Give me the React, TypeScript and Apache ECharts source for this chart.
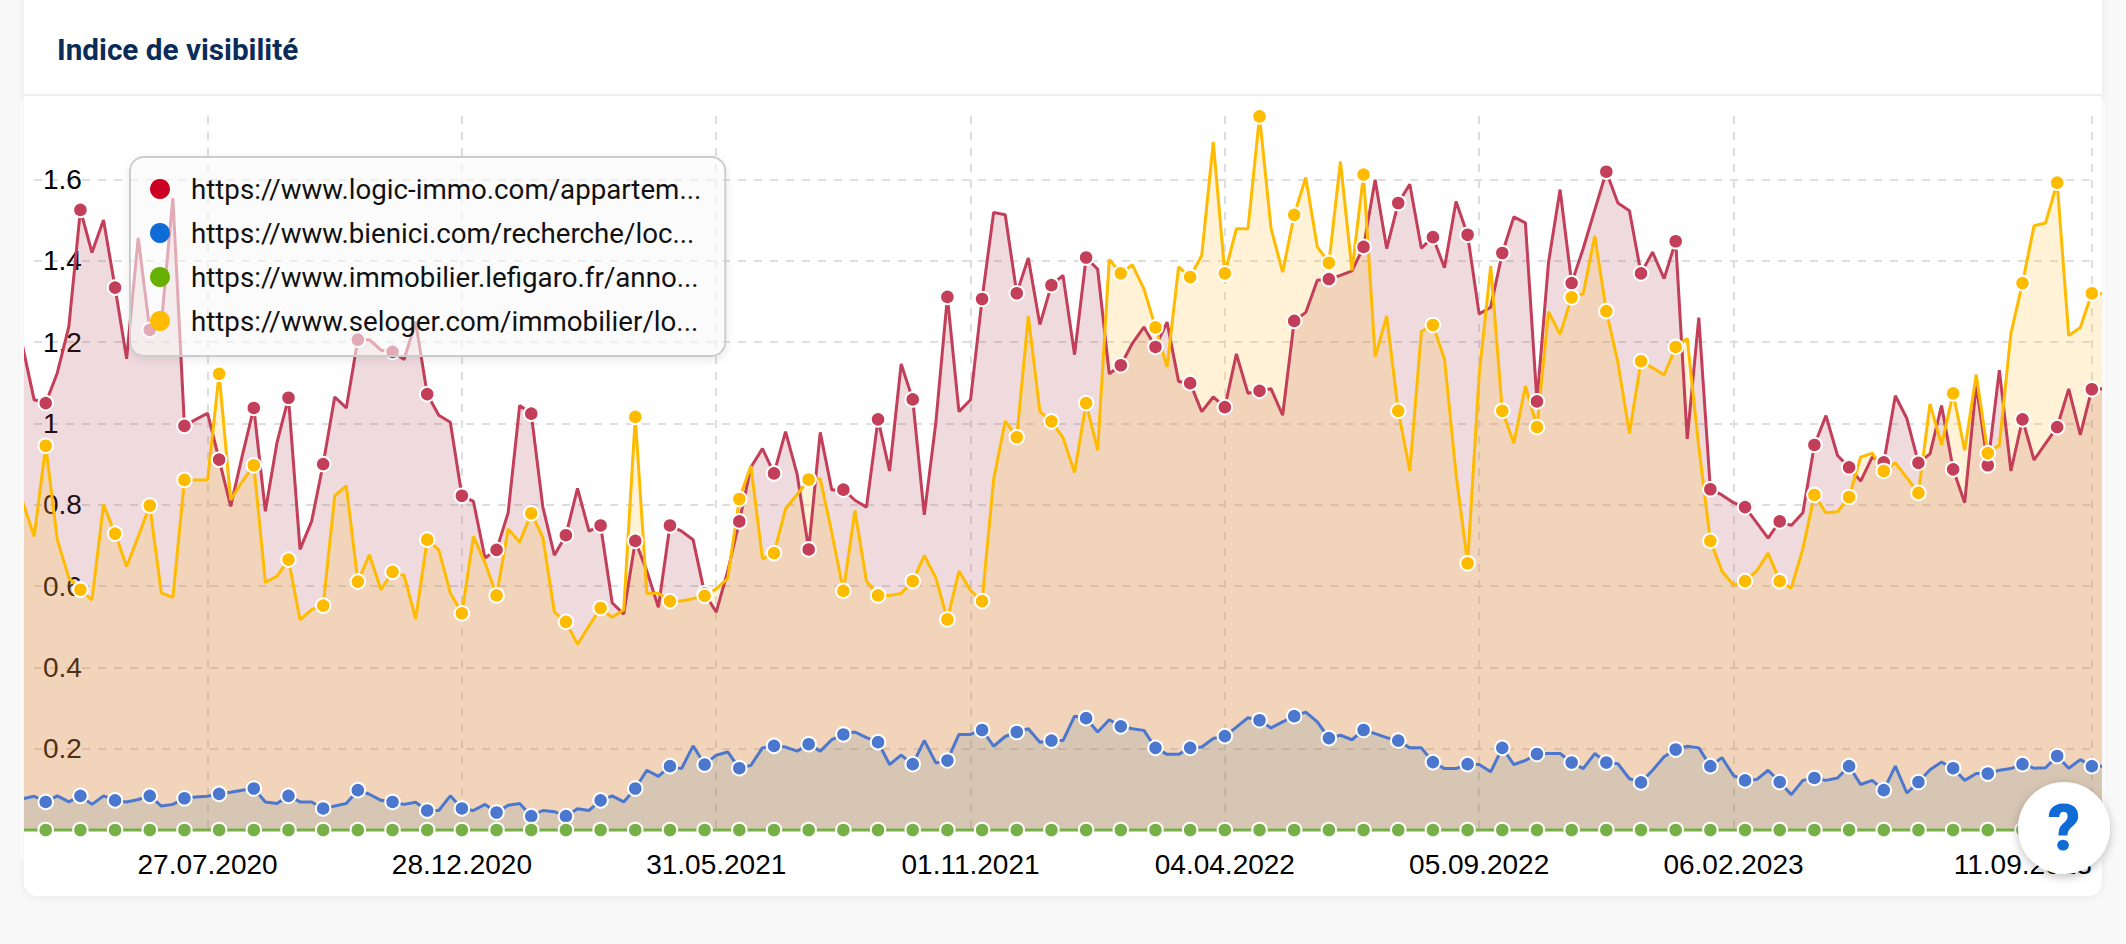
import React, { useEffect, useRef } from "react";
import * as echarts from "echarts";

const title = "Indice de visibilité";
const seriesNames = [
  "https://www.logic-immo.com/appartem...",
  "https://www.bienici.com/recherche/loc...",
  "https://www.immobilier.lefigaro.fr/anno...",
  "https://www.seloger.com/immobilier/lo...",
];
const legendColors = ["#cc0022", "#0f6bd6", "#66b100", "#ffbb00"];
const lineColors = ["#c33e58", "#4b78ce", "#78b048", "#ffbb00"];
const areaColors = ["rgb(175,70,90)", "rgb(56,121,174)", "rgb(120,176,72)", "rgb(255,187,45)"];
const areaOpacities = [0.2, 0.17, 0.2, 0.195];

const tickLabels = ["27.07.2020", "28.12.2020", "31.05.2021", "01.11.2021", "04.04.2022", "05.09.2022", "06.02.2023", "11.09.2023"];

const logicImmo = [
  1.19, 1.058, 1.05, 1.124, 1.238, 1.525, 1.42, 1.5, 1.334, 1.159,
  1.456, 1.23, 1.245, 1.554, 0.994, 1.01, 1.025, 0.911, 0.796, 0.92,
  1.038, 0.784, 0.952, 1.063, 0.69, 0.759, 0.9, 1.065, 1.038, 1.206,
  1.206, 1.18, 1.176, 1.157, 1.25, 1.072, 1.02, 1.003, 0.822, 0.808,
  0.669, 0.689, 0.78, 1.044, 1.024, 0.795, 0.676, 0.725, 0.84, 0.735,
  0.749, 0.559, 0.531, 0.711, 0.637, 0.548, 0.749, 0.735, 0.714, 0.582,
  0.536, 0.637, 0.759, 0.892, 0.938, 0.877, 0.98, 0.875, 0.69, 0.978,
  0.836, 0.837, 0.811, 0.794, 1.01, 0.883, 1.146, 1.059, 0.775, 1.002,
  1.311, 1.029, 1.058, 1.306, 1.519, 1.513, 1.32, 1.407, 1.243, 1.34,
  1.364, 1.169, 1.408, 1.379, 1.122, 1.143, 1.197, 1.237, 1.188, 1.249,
  1.103, 1.099, 1.029, 1.065, 1.04, 1.171, 1.074, 1.08, 1.085, 1.02,
  1.252, 1.273, 1.352, 1.355, 1.364, 1.375, 1.434, 1.599, 1.43, 1.542,
  1.588, 1.431, 1.458, 1.383, 1.546, 1.464, 1.269, 1.286, 1.419, 1.508,
  1.493, 1.054, 1.396, 1.575, 1.345, 1.43, 1.525, 1.619, 1.542, 1.523,
  1.369, 1.421, 1.356, 1.448, 0.962, 1.26, 0.838, 0.824, 0.805, 0.794,
  0.756, 0.718, 0.759, 0.749, 0.78, 0.947, 1.019, 0.921, 0.892, 0.858,
  0.917, 0.904, 1.068, 1.012, 0.903, 0.925, 1.044, 0.887, 0.805, 1.095,
  0.897, 1.131, 0.883, 1.01, 0.91, 0.951, 0.991, 1.085, 0.972, 1.084, 1.085,
];

const bienici = [
  0.077, 0.083, 0.069, 0.084, 0.069, 0.084, 0.063, 0.084, 0.073, 0.069,
  0.075, 0.084, 0.059, 0.063, 0.078, 0.081, 0.083, 0.089, 0.093, 0.098,
  0.102, 0.069, 0.065, 0.084, 0.069, 0.069, 0.053, 0.059, 0.065, 0.098,
  0.088, 0.073, 0.069, 0.063, 0.068, 0.048, 0.048, 0.084, 0.053, 0.048,
  0.063, 0.043, 0.061, 0.065, 0.034, 0.048, 0.045, 0.034, 0.052, 0.048,
  0.073, 0.084, 0.069, 0.102, 0.147, 0.132, 0.157, 0.151, 0.207, 0.161,
  0.184, 0.192, 0.152, 0.159, 0.202, 0.207, 0.204, 0.194, 0.211, 0.194,
  0.222, 0.235, 0.241, 0.227, 0.216, 0.161, 0.184, 0.162, 0.22, 0.165,
  0.171, 0.235, 0.235, 0.246, 0.206, 0.23, 0.241, 0.249, 0.216, 0.22,
  0.22, 0.28, 0.275, 0.241, 0.271, 0.255, 0.249, 0.245, 0.202, 0.186,
  0.186, 0.202, 0.204, 0.225, 0.231, 0.253, 0.276, 0.27, 0.251, 0.266,
  0.28, 0.29, 0.266, 0.226, 0.233, 0.222, 0.246, 0.237, 0.227, 0.22,
  0.202, 0.202, 0.167, 0.151, 0.151, 0.162, 0.161, 0.143, 0.202, 0.161,
  0.171, 0.187, 0.188, 0.188, 0.166, 0.151, 0.188, 0.166, 0.163, 0.126,
  0.117, 0.147, 0.18, 0.198, 0.206, 0.202, 0.157, 0.178, 0.134, 0.122,
  0.124, 0.147, 0.118, 0.087, 0.122, 0.128, 0.122, 0.128, 0.157, 0.112,
  0.122, 0.098, 0.157, 0.091, 0.118, 0.148, 0.167, 0.152, 0.122, 0.139,
  0.139, 0.147, 0.151, 0.162, 0.152, 0.153, 0.182, 0.152, 0.173, 0.157, 0.157,
];

const lefigaro = [
  0, 0, 0, 0, 0, 0, 0, 0, 0, 0, 0, 0, 0, 0, 0, 0, 0, 0, 0, 0,
  0, 0, 0, 0, 0, 0, 0, 0, 0, 0, 0, 0, 0, 0, 0, 0, 0, 0, 0, 0,
  0, 0, 0, 0, 0, 0, 0, 0, 0, 0, 0, 0, 0, 0, 0, 0, 0, 0, 0, 0,
  0, 0, 0, 0, 0, 0, 0, 0, 0, 0, 0, 0, 0, 0, 0, 0, 0, 0, 0, 0,
  0, 0, 0, 0, 0, 0, 0, 0, 0, 0, 0, 0, 0, 0, 0, 0, 0, 0, 0, 0,
  0, 0, 0, 0, 0, 0, 0, 0, 0, 0, 0, 0, 0, 0, 0, 0, 0, 0, 0, 0,
  0, 0, 0, 0, 0, 0, 0, 0, 0, 0, 0, 0, 0, 0, 0, 0, 0, 0, 0, 0,
  0, 0, 0, 0, 0, 0, 0, 0, 0, 0, 0, 0, 0, 0, 0, 0, 0, 0, 0, 0,
  0, 0, 0, 0, 0, 0, 0, 0, 0, 0, 0, 0, 0, 0, 0, 0, 0, 0, 0, 0, 0,
];

const seloger = [
  0.808, 0.722, 0.945, 0.714, 0.62, 0.591, 0.566, 0.8, 0.729, 0.648,
  0.722, 0.798, 0.583, 0.572, 0.861, 0.861, 0.861, 1.122, 0.812, 0.857,
  0.897, 0.609, 0.624, 0.665, 0.517, 0.542, 0.552, 0.822, 0.847, 0.611,
  0.677, 0.591, 0.635, 0.626, 0.519, 0.714, 0.689, 0.583, 0.533, 0.722,
  0.657, 0.577, 0.74, 0.708, 0.779, 0.72, 0.536, 0.512, 0.457, 0.502,
  0.546, 0.523, 0.541, 1.016, 0.582, 0.582, 0.563, 0.563, 0.569, 0.576,
  0.593, 0.619, 0.814, 0.896, 0.667, 0.681, 0.79, 0.825, 0.862, 0.864,
  0.731, 0.588, 0.786, 0.612, 0.577, 0.577, 0.582, 0.612, 0.675, 0.62,
  0.518, 0.637, 0.589, 0.563, 0.862, 1.006, 0.966, 1.264, 1.029, 1.005,
  0.965, 0.879, 1.05, 0.934, 1.403, 1.369, 1.39, 1.331, 1.236, 1.139,
  1.385, 1.36, 1.413, 1.692, 1.369, 1.479, 1.479, 1.755, 1.479, 1.372,
  1.513, 1.605, 1.434, 1.395, 1.644, 1.376, 1.612, 1.164, 1.264, 1.031,
  0.883, 1.226, 1.242, 1.158, 0.875, 0.656, 1.12, 1.387, 1.031, 0.951,
  1.092, 0.991, 1.275, 1.219, 1.31, 1.319, 1.461, 1.276, 1.15, 0.976,
  1.153, 1.137, 1.119, 1.188, 1.209, 0.942, 0.711, 0.637, 0.602, 0.612,
  0.637, 0.681, 0.612, 0.595, 0.692, 0.824, 0.78, 0.783, 0.819, 0.917,
  0.927, 0.883, 0.903, 0.866, 0.829, 1.048, 0.947, 1.074, 0.934, 1.12,
  0.927, 0.947, 1.222, 1.345, 1.486, 1.493, 1.592, 1.216, 1.236, 1.32, 1.319,
];

const seriesValues = [logicImmo, bienici, lefigaro, seloger];

function weeklyDates(count: number): string[] {
  const out: string[] = [];
  const start = Date.UTC(2020, 3, 6);
  for (let i = 0; i < count; i++) {
    const d = new Date(start + i * 7 * 86400000);
    const dd = String(d.getUTCDate()).padStart(2, "0");
    const mm = String(d.getUTCMonth() + 1).padStart(2, "0");
    out.push(`${dd}.${mm}.${d.getUTCFullYear()}`);
  }
  return out;
}
const categories = weeklyDates(logicImmo.length);

const showTick = (_i: number, v: string) => tickLabels.includes(v);

export default function App() {
  const ref = useRef<HTMLDivElement>(null);
  useEffect(() => {
    const chart = echarts.init(ref.current!, null, { renderer: "svg" });
    const gridTop = 116;
    const gridHeight = 714;
    const yMax = 1.756;
    chart.setOption({
      animation: false,
      backgroundColor: "#f9f9f9",
      title: {
        text: title,
        left: 57,
        top: 34,
        padding: 0,
        textStyle: { fontFamily: "Roboto", fontWeight: 700, fontSize: 29.7, color: "#0b2c5b" },
      },
      legend: {
        left: 130,
        top: 157,
        orient: "vertical",
        padding: [18, 24, 21, 20],
        itemWidth: 20,
        itemHeight: 20,
        itemGap: 16,
        icon: "circle",
        backgroundColor: "rgba(255,255,255,0.55)",
        borderColor: "#cccccc",
        borderWidth: 2,
        borderRadius: 14,
        shadowColor: "rgba(0,0,0,0.12)",
        shadowBlur: 8,
        shadowOffsetY: 3,
        selectedMode: false,
        textStyle: { fontFamily: "Roboto", fontSize: 27.7, color: "#111111", padding: [0, 0, 0, 16] },
        data: seriesNames.map((name, i) => ({ name, itemStyle: { color: legendColors[i], borderWidth: 0 } })),
      },
      grid: [
        { left: 22.6, width: 2080.8, top: gridTop, height: gridHeight },
        { left: 34, width: 2058, top: gridTop, height: gridHeight },
      ],
      xAxis: [
        {
          type: "category",
          gridIndex: 0,
          data: categories,
          boundaryGap: false,
          axisLine: { show: false },
          axisTick: { show: false },
          axisLabel: {
            interval: showTick,
            color: "#000000",
            fontFamily: "Liberation Sans",
            fontSize: 28,
            margin: 20,
            alignMaxLabel: "right",
          },
          splitLine: {
            show: true,
            interval: showTick,
            lineStyle: { color: "#dedede", width: 2, type: [8, 8] },
          },
        },
        { type: "category", gridIndex: 1, data: categories, boundaryGap: false, show: false },
      ],
      yAxis: [
        { type: "value", gridIndex: 0, min: 0, max: yMax, show: false },
        {
          type: "value",
          gridIndex: 1,
          min: 0,
          max: yMax,
          interval: 0.2,
          axisLine: { show: false },
          axisTick: { show: false },
          axisLabel: {
            inside: true,
            margin: 9,
            align: "left",
            color: "#000000",
            fontFamily: "Liberation Sans",
            fontSize: 28,
            showMinLabel: false,
            showMaxLabel: false,
            formatter: (v: number) => (v === 0 || v > 1.7 ? "" : String(v)),
          },
          splitLine: {
            show: true,
            showMinLine: false,
            showMaxLine: false,
            lineStyle: { color: "#dedede", width: 2, type: [8, 8] },
          },
        },
      ],
      series: seriesNames.map((name, s) => ({
        name,
        type: "line",
        xAxisIndex: 0,
        yAxisIndex: 0,
        clip: false,
        showAllSymbol: true,
        symbol: "circle",
        symbolSize: 14.5,
        lineStyle: { color: lineColors[s], width: 3 },
        itemStyle: { color: lineColors[s], borderColor: "#ffffff", borderWidth: 2 },
        areaStyle: { color: areaColors[s], opacity: areaOpacities[s] },
        emphasis: { disabled: true },
        data: seriesValues[s].map((v, i) => (i % 3 === 2 ? v : { value: v, symbol: "none" })),
      })),
      graphic: [
        {
          type: "rect",
          z: -10,
          silent: true,
          shape: { x: 24, y: -30, width: 2078, height: 926, r: 14 },
          style: { fill: "#ffffff", shadowColor: "rgba(0,0,0,0.08)", shadowBlur: 8, shadowOffsetY: 1 },
        },
        {
          type: "rect",
          z: -9,
          silent: true,
          shape: { x: 24, y: 94, width: 2078, height: 2 },
          style: { fill: "#eeeeee" },
        },
        { type: "rect", z: 50, silent: true, shape: { x: 20, y: 100, width: 4, height: 760 }, style: { fill: "#f9f9f9" } },
        { type: "rect", z: 50, silent: true, shape: { x: 2102, y: 100, width: 4, height: 760 }, style: { fill: "#f9f9f9" } },
        {
          type: "circle",
          z: 60,
          silent: true,
          shape: { cx: 2064, cy: 828, r: 46 },
          style: { fill: "#ffffff", shadowColor: "rgba(0,0,0,0.25)", shadowBlur: 10, shadowOffsetY: 3 },
        },
        {
          type: "text",
          z: 61,
          silent: true,
          x: 2064,
          y: 828,
          style: {
            text: "?",
            fontFamily: "Roboto",
            fontWeight: 900,
            fontSize: 64,
            fill: "#0f6bd6",
            align: "center",
            verticalAlign: "middle",
          },
        },
      ],
    });
    return () => chart.dispose();
  }, []);
  return <div ref={ref} style={{ position: "fixed", left: 0, top: 0, width: 2126, height: 944 }} />;
}
